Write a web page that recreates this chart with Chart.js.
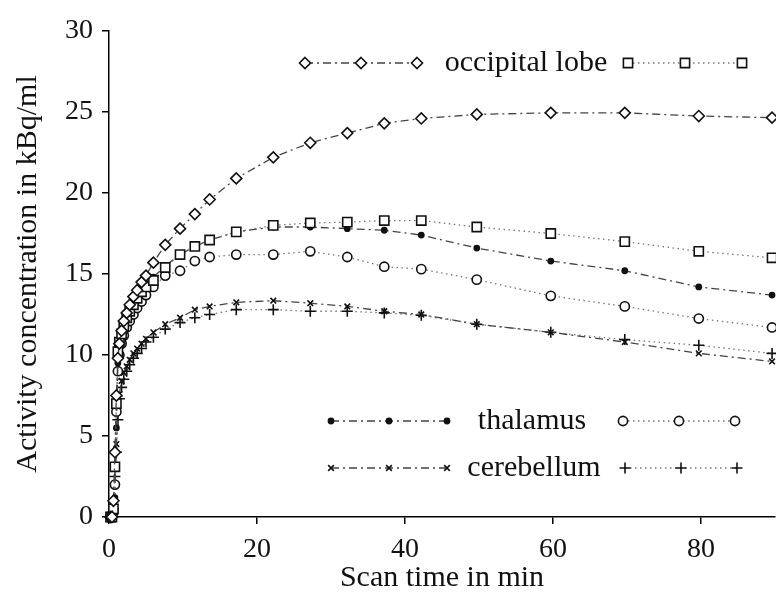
<!DOCTYPE html>
<html><head><meta charset="utf-8">
<script src="https://cdn.jsdelivr.net/npm/chart.js@4/dist/chart.umd.min.js"></script>
<style>html,body{margin:0;padding:0;background:#fff}canvas{display:block}</style>
</head><body>
<canvas id="c" width="776" height="597"></canvas>
<script>
// ---- data ----
const times = [0.2, 0.4, 0.6, 0.8, 1.0, 1.2, 1.4, 1.7, 2.0, 2.4, 2.8, 3.3, 3.8, 4.4, 5.0, 6.0, 7.6, 9.6, 11.6, 13.6, 17.2, 22.2, 27.2, 32.2, 37.2, 42.2, 49.7, 59.7, 69.7, 79.7, 89.6];
const occipitalDiamond = [0, 0, 1.0, 4.0, 7.5, 9.8, 10.7, 11.5, 12.1, 12.6, 13.1, 13.6, 14.0, 14.5, 14.9, 15.7, 16.8, 17.8, 18.7, 19.6, 20.9, 22.2, 23.1, 23.7, 24.3, 24.6, 24.85, 24.95, 24.95, 24.75, 24.65];
const occipitalSquare = [0, 0, 0.5, 3.1, 7.0, 10.2, 10.8, 11.3, 11.8, 12.3, 12.7, 13.1, 13.5, 13.9, 14.2, 14.6, 15.4, 16.2, 16.7, 17.1, 17.6, 18.0, 18.15, 18.2, 18.3, 18.3, 17.9, 17.5, 17.0, 16.4, 16.0];
const thalamusDot = [0, 0, 0.2, 1.2, 5.5, 9.5, 10.6, 11.2, 11.8, 12.3, 12.7, 13.2, 13.6, 14.0, 14.4, 14.8, 15.5, 16.2, 16.7, 17.1, 17.6, 17.9, 17.9, 17.8, 17.7, 17.4, 16.6, 15.8, 15.2, 14.2, 13.7];
const thalamusCircle = [0, 0, 0.3, 2.0, 6.5, 9.0, 10.0, 10.7, 11.2, 11.7, 12.1, 12.5, 12.9, 13.3, 13.7, 14.2, 14.9, 15.2, 15.8, 16.05, 16.2, 16.2, 16.4, 16.05, 15.45, 15.3, 14.65, 13.65, 13.0, 12.25, 11.7];
const cerebellumX = [0, 0, 0.3, 2.0, 4.5, 6.5, 7.6, 8.4, 8.9, 9.3, 9.7, 10.1, 10.4, 10.7, 11.0, 11.4, 11.9, 12.3, 12.8, 13.0, 13.25, 13.35, 13.2, 13.0, 12.7, 12.5, 11.9, 11.4, 10.8, 10.1, 9.6];
const cerebellumPlus = [0, 0, 0.5, 2.5, 4.0, 6.0, 7.3, 8.0, 8.5, 9.0, 9.4, 9.8, 10.1, 10.4, 10.8, 11.1, 11.6, 12.0, 12.3, 12.5, 12.8, 12.8, 12.7, 12.7, 12.6, 12.45, 11.9, 11.4, 10.95, 10.6, 10.1];
const legendLabels = ['occipital lobe', 'thalamus', 'cerebellum'];
const xTicks = [0, 20, 40, 60, 80];
const yTicks = [0, 5, 10, 15, 20, 25, 30];
const xTitle = 'Scan time in min';
const yTitle = 'Activity concentration in kBq/ml';

// ---- styles ----
const FONT = "'Liberation Serif', 'Times New Roman', serif";
const DASHDOT = [8, 4, 2, 4];
const DOTTED = [1.5, 3.5];
function pts(arr) { return arr.map((v, i) => ({x: times[i], y: v})); }
function ds(label, arr, style, radius, dash, filled) {
  return {
    label, data: pts(arr), showLine: true, tension: 0, clip: false,
    borderColor: dash === DOTTED ? '#777' : '#444', borderWidth: 1.3, borderDash: dash,
    pointStyle: style, pointRadius: radius, pointBorderColor: '#111', pointBorderWidth: 1.6,
    pointBackgroundColor: filled ? '#111' : '#fff', pointHoverRadius: radius
  };
}
const datasets = [
  ds(legendLabels[0], occipitalDiamond, 'rectRot', 5.5, DASHDOT, false),
  ds(legendLabels[0] + ' (2)', occipitalSquare, 'rect', 6.5, DOTTED, false),
  ds(legendLabels[1], thalamusDot, 'circle', 2.6, DASHDOT, true),
  ds(legendLabels[1] + ' (2)', thalamusCircle, 'circle', 4.6, DOTTED, false),
  ds(legendLabels[2], cerebellumX, 'crossRot', 4, DASHDOT, false),
  ds(legendLabels[2] + ' (2)', cerebellumPlus, 'cross', 5.5, DOTTED, false)
];

function drawMarker(ctx, d, x, y) {
  const r = d.pointRadius;
  ctx.save();
  ctx.setLineDash([]);
  ctx.lineWidth = d.pointBorderWidth;
  ctx.strokeStyle = d.pointBorderColor;
  ctx.fillStyle = d.pointBackgroundColor;
  ctx.beginPath();
  if (d.pointStyle === 'rectRot') {
    ctx.moveTo(x, y - r); ctx.lineTo(x + r, y); ctx.lineTo(x, y + r); ctx.lineTo(x - r, y); ctx.closePath();
    ctx.fill(); ctx.stroke();
  } else if (d.pointStyle === 'rect') {
    const h = r * Math.SQRT1_2; ctx.rect(x - h, y - h, 2 * h, 2 * h); ctx.fill(); ctx.stroke();
  } else if (d.pointStyle === 'circle') {
    ctx.arc(x, y, r, 0, Math.PI * 2); ctx.fill(); ctx.stroke();
  } else if (d.pointStyle === 'crossRot') {
    const h = r * Math.SQRT1_2;
    ctx.moveTo(x - h, y - h); ctx.lineTo(x + h, y + h); ctx.moveTo(x + h, y - h); ctx.lineTo(x - h, y + h); ctx.stroke();
  } else if (d.pointStyle === 'cross') {
    ctx.moveTo(x - r, y); ctx.lineTo(x + r, y); ctx.moveTo(x, y - r); ctx.lineTo(x, y + r); ctx.stroke();
  }
  ctx.restore();
}

const legendRows = [
  {y: 63, a: [305, 417], tx: 526, b: [628, 742], i: 0},
  {y: 421, a: [331, 447], tx: 532, b: [623, 735], i: 1},
  {y: 468, a: [331, 447], tx: 534, b: [625, 737], i: 2}
];
const legendPlugin = {
  id: 'pairLegend',
  afterDraw(chart) {
    const ctx = chart.ctx;
    const dsets = chart.data.datasets;
    legendRows.forEach(row => {
      [[row.a, dsets[row.i * 2]], [row.b, dsets[row.i * 2 + 1]]].forEach(([seg, d]) => {
        ctx.save();
        ctx.strokeStyle = d.borderColor; ctx.lineWidth = d.borderWidth; ctx.setLineDash(d.borderDash);
        ctx.beginPath(); ctx.moveTo(seg[0], row.y); ctx.lineTo(seg[1], row.y); ctx.stroke();
        ctx.restore();
        const mid = (seg[0] + seg[1]) / 2;
        [seg[0], mid, seg[1]].forEach(x => drawMarker(ctx, d, x, row.y));
      });
      ctx.save();
      ctx.font = '30px ' + FONT; ctx.fillStyle = '#111';
      ctx.textAlign = 'center'; ctx.textBaseline = 'middle';
      ctx.fillText(legendLabels[row.i], row.tx, row.y);
      ctx.restore();
    });
  }
};

Chart.defaults.font.family = FONT;
Chart.defaults.color = '#111';
new Chart(document.getElementById('c'), {
  type: 'scatter',
  data: {datasets},
  options: {
    responsive: false, animation: false, devicePixelRatio: 1,
    layout: {autoPadding: false, padding: {top: 31, right: 1, left: 0, bottom: 0}},
    plugins: {legend: {display: false}, tooltip: {enabled: false}},
    scales: {
      x: {
        type: 'linear', min: 0, max: 90,
        afterBuildTicks: s => { s.ticks = xTicks.map(v => ({value: v})); },
        afterFit: s => { s.height = 80; s.paddingLeft = 0; s.paddingRight = 0; },
        ticks: {font: {size: 28}, color: '#111', padding: 9, maxRotation: 0, autoSkip: false},
        grid: {drawOnChartArea: false, drawTicks: true, tickLength: 7, color: '#000', lineWidth: 1.5},
        border: {display: true, color: '#000', width: 1.5},
        title: {display: true, text: xTitle, font: {size: 30}, color: '#111', padding: {top: 0, bottom: 1}}
      },
      y: {
        type: 'linear', min: 0, max: 30,
        afterBuildTicks: s => { s.ticks = yTicks.map(v => ({value: v})); },
        afterFit: s => { s.width = 109; s.paddingTop = 0; s.paddingBottom = 0; },
        ticks: {font: {size: 28}, color: '#111', padding: 9, autoSkip: false},
        grid: {drawOnChartArea: false, drawTicks: true, tickLength: 7, color: '#000', lineWidth: 1.5},
        border: {display: true, color: '#000', width: 1.5},
        title: {display: true, text: yTitle, font: {size: 30}, color: '#111', padding: {top: 10, bottom: 0}}
      }
    }
  },
  plugins: [legendPlugin]
});
</script>
</body></html>
